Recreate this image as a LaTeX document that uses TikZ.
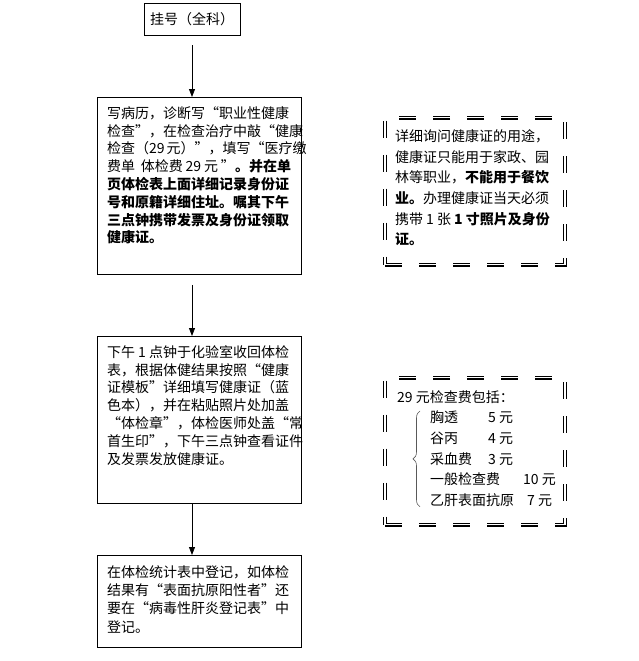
\documentclass[tikz,border=0pt]{standalone}
\usepackage{fontspec}
\newfontfamily\cjk{Noto Sans CJK SC}
\usetikzlibrary{arrows.meta,decorations.pathreplacing}

\begin{document}
\begin{tikzpicture}[x=1pt, y=-1pt, font=\cjk\fontsize{14pt}{17.8pt}\selectfont,
  stepbox/.style={draw, line width=0.8pt, inner sep=0pt, minimum width=204pt, anchor=north},
  notebox/.style={draw, double, line width=1.4pt, double distance=1.1pt,
    dash pattern=on 17pt off 17pt, inner sep=0pt, minimum width=180pt, minimum height=147pt, anchor=north},
  flow/.style={-{Triangle[length=8pt,width=6pt]}, line width=0.8pt}]
\useasboundingbox (0,0) rectangle (638,661);

% main steps
\node[draw, line width=0.8pt, minimum width=96pt, minimum height=32pt] (reg) at (192,19) {挂号（全科）};
\node[stepbox, minimum height=177pt] (hist) at (199,97) {\parbox[t][159pt][t]{184pt}{%
  写病历，诊断写“职业性健康\\
  检查”，在检查治疗中敲“健康\\
  检查（29~元）”，填写“医疗缴\\
  费单~~体检费~29~元~”\textbf{。并在单}\\
  \textbf{页体检表上面详细记录身份证}\\
  \textbf{号和原籍详细住址。嘱其下午}\\
  \textbf{三点钟携带发票及身份证领取}\\
  \textbf{健康证。}}};
\node[stepbox, minimum height=167pt] (lab) at (199,336) {\parbox[t][149pt][t]{184pt}{%
  下午~1~点钟于化验室收回体检\\
  表，根据体健结果按照“健康\\
  证模板”详细填写健康证（蓝\\
  色本），并在粘贴照片处加盖\\
  “体检章”，体检医师处盖“常\\
  首生印”，下午三点钟查看证件\\
  及发票发放健康证。}};
\node[stepbox, minimum height=92pt] (stat) at (199,555) {\parbox[t][72pt][t]{184pt}{\fontsize{14pt}{18.3pt}\selectfont
  在体检统计表中登记，如体检\\
  结果有“表面抗原阳性者”还\\
  要在“病毒性肝炎登记表”中\\
  登记。}};

\draw[flow, shorten <=10pt] (reg.south) -- (reg.south |- hist.north);
\draw[flow, shorten <=10pt] (hist.south -| reg.south) -- (reg.south |- lab.north);
\draw[flow] (lab.south -| reg.south) -- (reg.south |- stat.north);

% side notes
\node[notebox] (ask) at (475,117) {\parbox[t][123pt][t]{160pt}{\fontsize{14pt}{20.6pt}\selectfont
  详细询问健康证的用途，\\
  健康证只能用于家政、园\\
  林等职业，\textbf{不能用于餐饮}\\
  \textbf{业。}办理健康证当天必须\\
  携带~1~张~\textbf{1~寸照片及身份}\\
  \textbf{证。}}};

\node[notebox] (fee) at (475,377) {};
\node[anchor=north west, inner sep=0pt] (feetitle) at (397,390) {29~元检查费包括：};
\node[anchor=north west, inner sep=0pt] (feeitems) at (430,411) {\parbox[t]{130pt}{\fontsize{14pt}{20.6pt}\selectfont
  \makebox[58pt][l]{胸透}5~元\\
  \makebox[58pt][l]{谷丙}4~元\\
  \makebox[58pt][l]{采血费}3~元\\
  \makebox[93pt][l]{一般检查费}10~元\\
  \makebox[97pt][l]{乙肝表面抗原}7~元}};
\draw[decorate, decoration={brace, amplitude=7pt}, line width=0.6pt, black!65]
  ([xshift=-10pt]feeitems.south west) -- ([xshift=-10pt]feeitems.north west);
\end{tikzpicture}
\end{document}
